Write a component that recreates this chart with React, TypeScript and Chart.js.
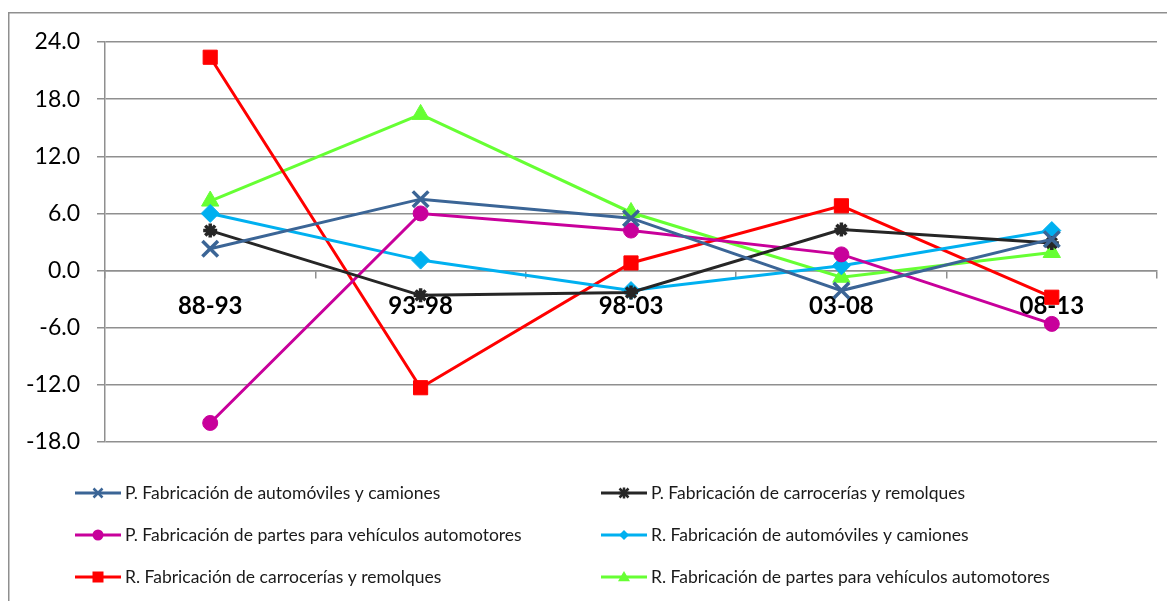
import React, { useEffect, useRef } from "react";
import { Chart, registerables } from "chart.js";

Chart.register(...registerables);

const categories = ["88-93", "93-98", "98-03", "03-08", "08-13"];
const seriesNames = [
  "P. Fabricación de automóviles y camiones",
  "P. Fabricación de carrocerías y remolques",
  "P. Fabricación de partes para vehículos automotores",
  "R. Fabricación de automóviles y camiones",
  "R. Fabricación de carrocerías y remolques",
  "R. Fabricación de partes para vehículos automotores",
];
const pAutos = [2.3, 7.5, 5.5, -2.1, 3.3];
const pCarrocerias = [4.2, -2.6, -2.3, 4.3, 2.9];
const pPartes = [-16.0, 6.0, 4.2, 1.7, -5.6];
const rAutos = [6.0, 1.1, -2.1, 0.5, 4.2];
const rCarrocerias = [22.4, -12.3, 0.8, 6.8, -2.8];
const rPartes = [7.3, 16.4, 6.1, -0.7, 1.9];
const yTicks = [-18, -12, -6, 0, 6, 12, 18, 24];

const colors = ["#3B6596", "#262626", "#C8009B", "#00B0F0", "#FF0000", "#66FF33"];
const styles = ["crossRot", "star", "circle", "rectRot", "rect", "triangle"];
const radii = [11, 7, 7.5, 9, 10, 10];
const FONT = "Lato, 'Open Sans', sans-serif";
const GRID = "#8f8f8f";

function drawMarker(ctx: CanvasRenderingContext2D, style: string, x: number, y: number, r: number, color: string) {
  ctx.save();
  ctx.fillStyle = color;
  ctx.strokeStyle = color;
  ctx.lineWidth = 2.5;
  ctx.beginPath();
  if (style === "circle") {
    ctx.arc(x, y, r, 0, Math.PI * 2);
    ctx.fill();
  } else if (style === "rect") {
    ctx.rect(x - r, y - r, 2 * r, 2 * r);
    ctx.fill();
  } else if (style === "rectRot") {
    ctx.moveTo(x, y - r);
    ctx.lineTo(x + r, y);
    ctx.lineTo(x, y + r);
    ctx.lineTo(x - r, y);
    ctx.closePath();
    ctx.fill();
  } else if (style === "triangle") {
    ctx.moveTo(x, y - r);
    ctx.lineTo(x + r, y + r * 0.7);
    ctx.lineTo(x - r, y + r * 0.7);
    ctx.closePath();
    ctx.fill();
  } else if (style === "crossRot") {
    ctx.moveTo(x - r, y - r);
    ctx.lineTo(x + r, y + r);
    ctx.moveTo(x + r, y - r);
    ctx.lineTo(x - r, y + r);
    ctx.stroke();
  } else if (style === "star") {
    ctx.moveTo(x - r, y - r);
    ctx.lineTo(x + r, y + r);
    ctx.moveTo(x + r, y - r);
    ctx.lineTo(x - r, y + r);
    ctx.moveTo(x - r * 1.2, y);
    ctx.lineTo(x + r * 1.2, y);
    ctx.moveTo(x, y - r * 1.2);
    ctx.lineTo(x, y + r * 1.2);
    ctx.stroke();
  }
  ctx.restore();
}

const legendMarkerR = [4.5, 4.5, 5.5, 5, 5.5, 6];

const framePlugin = {
  id: "frame",
  beforeDraw(chart: any) {
    const ctx = chart.ctx as CanvasRenderingContext2D;
    ctx.save();
    ctx.strokeStyle = GRID;
    ctx.lineWidth = 1.5;
    ctx.beginPath();
    ctx.moveTo(0.75, chart.height + 5);
    ctx.lineTo(0.75, 4.75);
    ctx.lineTo(chart.width + 5, 4.75);
    ctx.stroke();
    ctx.restore();
  },
  afterDraw(chart: any) {
    const ctx = chart.ctx as CanvasRenderingContext2D;
    const colX = [67, 593];
    const rowY = [485, 527, 569];
    ctx.save();
    for (let i = 0; i < seriesNames.length; i++) {
      const col = i % 2;
      const row = Math.floor(i / 2);
      const x0 = colX[col];
      const y = rowY[row];
      ctx.strokeStyle = colors[i];
      ctx.lineWidth = 3;
      ctx.beginPath();
      ctx.moveTo(x0, y);
      ctx.lineTo(x0 + 46, y);
      ctx.stroke();
      drawMarker(ctx, styles[i], x0 + 23, y, legendMarkerR[i], colors[i]);
      ctx.fillStyle = "#1a1a1a";
      ctx.font = `17.5px ${FONT}`;
      ctx.textAlign = "left";
      ctx.textBaseline = "middle";
      ctx.fillText(seriesNames[i], x0 + 50, y);
    }
    ctx.restore();
  },
};

export default function App() {
  const ref = useRef<HTMLCanvasElement | null>(null);
  useEffect(() => {
    document.body.style.overflow = "hidden";
    const canvas = ref.current;
    if (!canvas) return;
    const data = [pAutos, pCarrocerias, pPartes, rAutos, rCarrocerias, rPartes];
    const chart = new Chart(canvas, {
      type: "line",
      data: {
        labels: categories,
        datasets: data.map((d, i) => ({
          label: seriesNames[i],
          data: d,
          borderColor: colors[i],
          backgroundColor: colors[i],
          pointBackgroundColor: colors[i],
          pointBorderColor: colors[i],
          pointStyle: styles[i] as any,
          pointRadius: radii[i],
          pointBorderWidth: i < 2 ? 3.5 : 1,
          borderWidth: 3,
          tension: 0,
          fill: false,
        })),
      },
      options: {
        animation: false,
        responsive: false,
        devicePixelRatio: 1,
        layout: { padding: { left: 0, right: 18, top: 34, bottom: 159 } },
        plugins: { legend: { display: false }, tooltip: { enabled: false } },
        scales: {
          x: {
            type: "category",
            position: { y: 0 } as any,
            offset: true,
            grid: {
              offset: true,
              drawOnChartArea: false,
              drawTicks: true,
              tickLength: 7,
              color: GRID,
              lineWidth: 1.5,
            },
            border: { display: true, color: GRID, width: 1.5 },
            ticks: {
              font: { family: FONT, size: 24, weight: "bold" },
              color: "#000",
              padding: 14,
              maxRotation: 0,
            },
          },
          y: {
            min: yTicks[0],
            max: yTicks[yTicks.length - 1],
            afterBuildTicks: (scale: any) => {
              scale.ticks = yTicks.map((v) => ({ value: v }));
            },
            afterFit: (scale: any) => {
              scale.width = 97;
            },
            grid: { color: GRID, lineWidth: 1.5, tickLength: 8, drawTicks: true },
            border: { display: true, color: GRID, width: 1.5 },
            ticks: {
              font: { family: FONT, size: 23 },
              color: "#000",
              padding: 17,
              callback: (v: any) => Number(v).toFixed(1),
            },
          },
        },
      },
      plugins: [framePlugin],
    });
    return () => chart.destroy();
  }, []);
  return (
    <div style={{ width: 1167, height: 593, position: "relative" }}>
      <canvas ref={ref} width={1167} height={593} style={{ display: "block" }} />
    </div>
  );
}
